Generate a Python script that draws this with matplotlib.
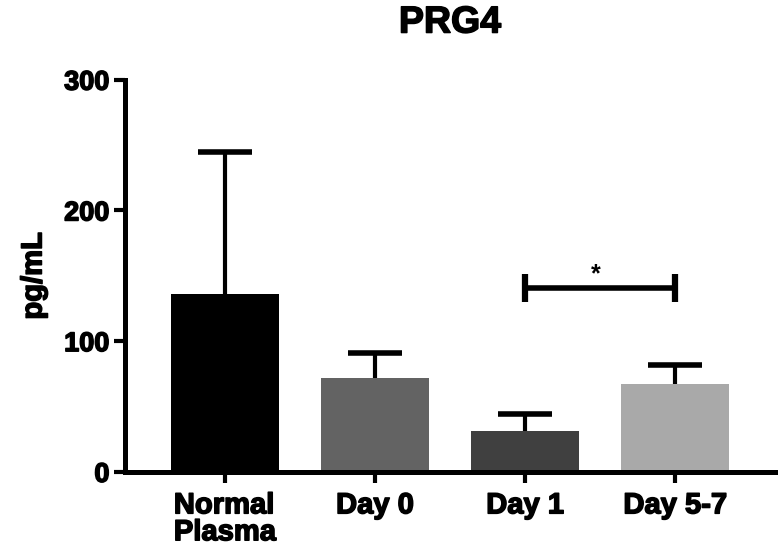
import numpy as np
import matplotlib.pyplot as plt
import matplotlib as mpl
import matplotlib.patheffects as pe

mpl.rcParams['font.family'] = ['Liberation Sans', 'DejaVu Sans']
mpl.rcParams['font.weight'] = 'bold'

# values (pg/mL)
groups = ['Normal\nPlasma', 'Day 0', 'Day 1', 'Day 5-7']
means = [136, 72, 31, 67]
sem_upper = [109, 19, 13, 15]
bar_colors = ['#000000', '#636363', '#404040', '#a9a9a9']
sig_pair = (2, 3)
sig_level = 141

# heavier look for the bold text
heavy = [pe.withStroke(linewidth=1.1, foreground='black')]

fig = plt.figure(figsize=(7.8, 5.5), dpi=100)
ax = fig.add_axes([0.160, 0.142, 0.834, 0.713])

x = np.arange(len(groups))
ax.bar(x, means, width=0.72, color=bar_colors, zorder=2)

# upper-only error bars (stem + cap)
tops = np.array(means) + np.array(sem_upper)
ax.vlines(x, means, tops, color='black', lw=3, zorder=3)
ax.hlines(tops, x - 0.18, x + 0.18, color='black', lw=4, zorder=3)

# significance bracket
ax.plot([x[sig_pair[0]], x[sig_pair[1]]], [sig_level, sig_level], color='black',
        lw=4, marker='|', markersize=20, markeredgewidth=4.5, solid_capstyle='butt')
ax.text((x[sig_pair[0]] + x[sig_pair[1]]) / 2 - 0.03, sig_level + 1, '*', ha='center',
        va='bottom', fontsize=18, fontweight='bold')

ax.set_xlim(-0.667, 3.667)
ax.set_ylim(0, 300)
ax.set_yticks([0, 100, 200, 300])
ax.set_xticks(x)
ax.set_xticklabels(groups, fontsize=21, fontweight='bold', ha='center',
                   multialignment='left', linespacing=0.95)
ax.tick_params(axis='y', labelsize=19.5, width=3, length=8, pad=3)
ax.tick_params(axis='x', width=3, length=8, pad=6)
for lab in ax.get_yticklabels() + ax.get_xticklabels():
    lab.set_fontweight('bold')
    lab.set_path_effects(heavy)

for s in ['top', 'right']:
    ax.spines[s].set_visible(False)
for s in ['left', 'bottom']:
    ax.spines[s].set_linewidth(3.6)

ylab = ax.set_ylabel('pg/mL', fontsize=21, fontweight='bold', labelpad=12)
ylab.set_path_effects(heavy)
ttl = ax.set_title('PRG4', fontsize=27, fontweight='bold', pad=34)
ttl.set_path_effects(heavy)

fig.savefig('out.png', dpi=100)
